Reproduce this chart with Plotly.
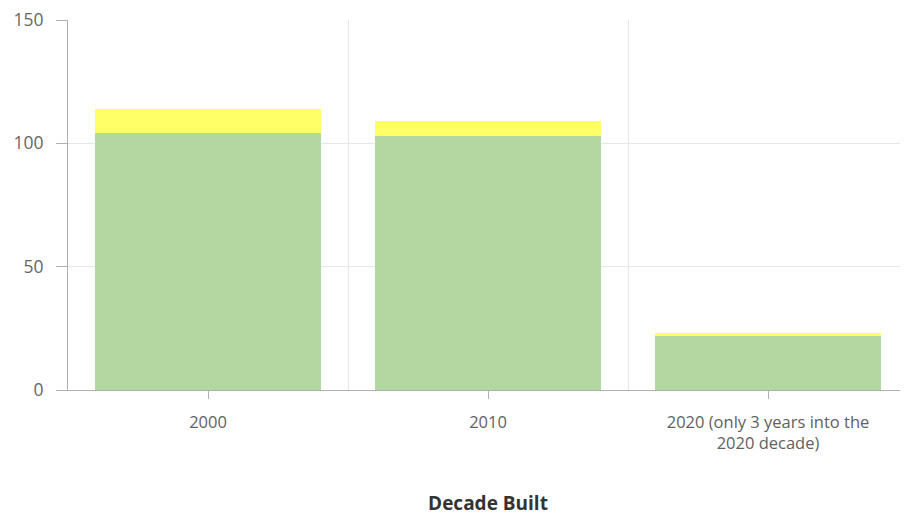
import plotly.graph_objects as go

categories = ["2000", "2010", "2020 (only 3 years into the<br>2020 decade)"]
green_values = [104, 103, 22]
yellow_values = [10, 6, 1]
y_ticks = [0, 50, 100, 150]

x_idx = list(range(len(categories)))

fig = go.Figure()
fig.add_trace(go.Bar(x=x_idx, y=green_values, marker=dict(color="#b3d7a0", line=dict(width=0)),
                     name="A", showlegend=False, hoverinfo="y"))
fig.add_trace(go.Bar(x=x_idx, y=yellow_values, marker=dict(color="#ffff66", line=dict(width=0)),
                     name="B", showlegend=False, hoverinfo="y"))

fig.update_layout(
    barmode="stack",
    bargap=0.193,
    width=900, height=510,
    margin=dict(l=60, r=0, t=12, b=128),
    paper_bgcolor="white", plot_bgcolor="white",
    font=dict(family="Open Sans", color="#595959"),
    xaxis=dict(
        range=[-0.5, 2.5],
        tickmode="array", tickvals=x_idx, ticktext=categories,
        showgrid=False, zeroline=False,
        showline=True, linecolor="#b0b0b0", linewidth=1,
        ticks="outside", ticklen=8, tickcolor="#b0b0b0",
        ticklabelstandoff=9,
        tickfont=dict(size=16.5, color="#5f5f5f"),
        minor=dict(tickvals=[0.5, 1.5], showgrid=True, gridcolor="#e6e6e6", gridwidth=1, ticks=""),
        title=dict(text="<b>Decade Built</b>", font=dict(family="Open Sans", size=19, color="#333333"), standoff=43),
        automargin=False,
    ),
    yaxis=dict(
        range=[0, 150],
        tickmode="array", tickvals=y_ticks,
        showgrid=True, gridcolor="#e6e6e6", gridwidth=1,
        zeroline=False,
        showline=True, linecolor="#b0b0b0", linewidth=1,
        ticks="outside", ticklen=11, tickcolor="#b0b0b0",
        ticklabelstandoff=9,
        ticklabeloverflow="allow",
        tickfont=dict(size=17.5, color="#666666"),
        automargin=False,
    ),
)

fig.write_html("out.html")
